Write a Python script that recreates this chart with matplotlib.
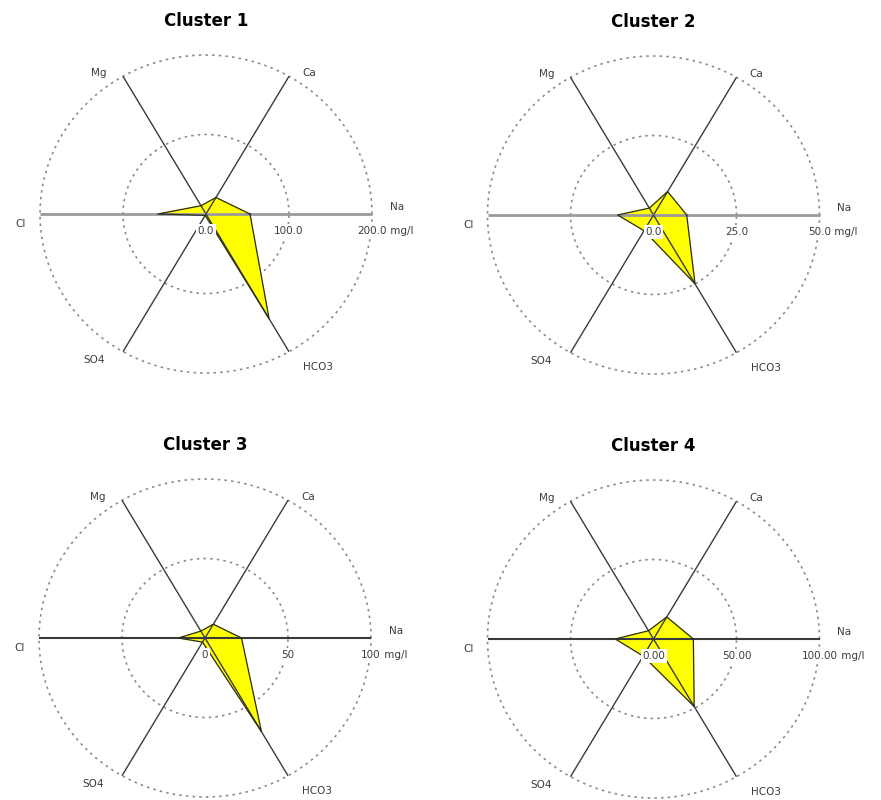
import numpy as np
import matplotlib
matplotlib.use('Agg')
import matplotlib.pyplot as plt

# ---- data ----
ions = ['Na', 'Ca', 'Mg', 'Cl', 'SO4', 'HCO3']
titles = ['Cluster 1', 'Cluster 2', 'Cluster 3', 'Cluster 4']
cluster1 = [53, 24, 12, 58, 2, 152]
cluster2 = [10.0, 8.5, 2.5, 10.8, 5.7, 25.0]
cluster3 = [22, 10, 5, 16, 3, 68]
cluster4 = [24, 16, 6, 23, 12.4, 49]
scale_max = [200, 50, 100, 100]
scale_labels = [['0.0', '100.0', '200.0'],
                ['0.0', '25.0', '50.0'],
                ['0', '50', '100'],
                ['0.00', '50.00', '100.00']]
unit = 'mg/l'

clusters = [cluster1, cluster2, cluster3, cluster4]

# ---- layout / style ----
W, H = 881, 800
fig = plt.figure(figsize=(W / 100, H / 100), dpi=100)
fig.patch.set_facecolor('white')

# panel centres in pixels and ellipse radii
centres = [(206, 214), (653.5, 215), (205, 638), (653.5, 639)]
rx, ry = 166, 159
horiz_styles = [dict(color='#9a9a9a', lw=2.0), dict(color='#9a9a9a', lw=2.0),
                dict(color='#3a3a3a', lw=1.5), dict(color='#3a3a3a', lw=1.5)]

angles = np.deg2rad(np.arange(len(ions)) * 60.0)

# label offsets (points) from spoke ends
label_off = {'Na': (18, 5), 'Ca': (14.5, 2.2), 'Mg': (-17.3, 2.2),
             'Cl': (-13.7, -7.2), 'SO4': (-20.9, -5.8), 'HCO3': (20.9, -10.8)}

txt_color = '#3c3c3c'
fs = 7.5

for i, (vals, rmax, labs, title) in enumerate(zip(clusters, scale_max, scale_labels, titles)):
    cx, cy = centres[i]
    rect = [(cx - rx) / W, 1 - (cy + ry) / H, 2 * rx / W, 2 * ry / H]
    ax = fig.add_axes(rect, projection='polar')
    ax.set_aspect('auto')
    ax.set_theta_zero_location('E')
    ax.set_theta_direction(1)
    ax.set_ylim(0, rmax)
    ax.axis('off')

    # dotted rings
    th = np.linspace(0, 2 * np.pi, 400)
    for ring in (rmax / 2, rmax):
        ax.plot(th, np.full_like(th, ring), linestyle=(0, (1.5, 2.5)),
                color='#8c8c8c', lw=1.2, zorder=1, clip_on=False)

    # polygon
    th_poly = np.append(angles, angles[0])
    v_poly = np.append(vals, vals[0])
    ax.fill(th_poly, v_poly, color='#ffff00', zorder=2)
    ax.plot(th_poly, v_poly, color='#2a2a2a', lw=0.9, zorder=4)

    # spokes
    for ion, a in zip(ions, angles):
        if ion in ('Na', 'Cl'):
            st = horiz_styles[i]
        else:
            st = dict(color='#3a3a3a', lw=1.0)
        ax.plot([a, a], [0, rmax], zorder=3, clip_on=False, solid_capstyle='butt', **st)
        dx, dy = label_off[ion]
        ax.annotate(ion, xy=(a, rmax), xytext=(dx, dy), textcoords='offset points',
                    ha='center', va='center', fontsize=fs, color=txt_color,
                    annotation_clip=False)

    # scale labels along Na axis
    for j, (lab, rv) in enumerate(zip(labs, [0, rmax / 2, rmax])):
        t = ax.annotate(lab, xy=(0, rv), xytext=(0, -12.2), textcoords='offset points',
                        ha='center', va='center', fontsize=fs, color=txt_color,
                        annotation_clip=False, zorder=6,
                        bbox=dict(boxstyle='square,pad=0.15', fc='white', ec='none'))
        if j == 2:
            ax.annotate(' ' + unit, xy=(1, 0.5), xycoords=t, ha='left', va='center',
                        fontsize=fs, color=txt_color, annotation_clip=False, zorder=6)

    # title
    ax.annotate(title, xy=(0.5, 1.0), xycoords='axes fraction', xytext=(0, 24.5),
                textcoords='offset points', ha='center', va='center',
                fontsize=12, fontweight='bold', color='black', annotation_clip=False)

fig.savefig('out.png', dpi=100, facecolor='white')
